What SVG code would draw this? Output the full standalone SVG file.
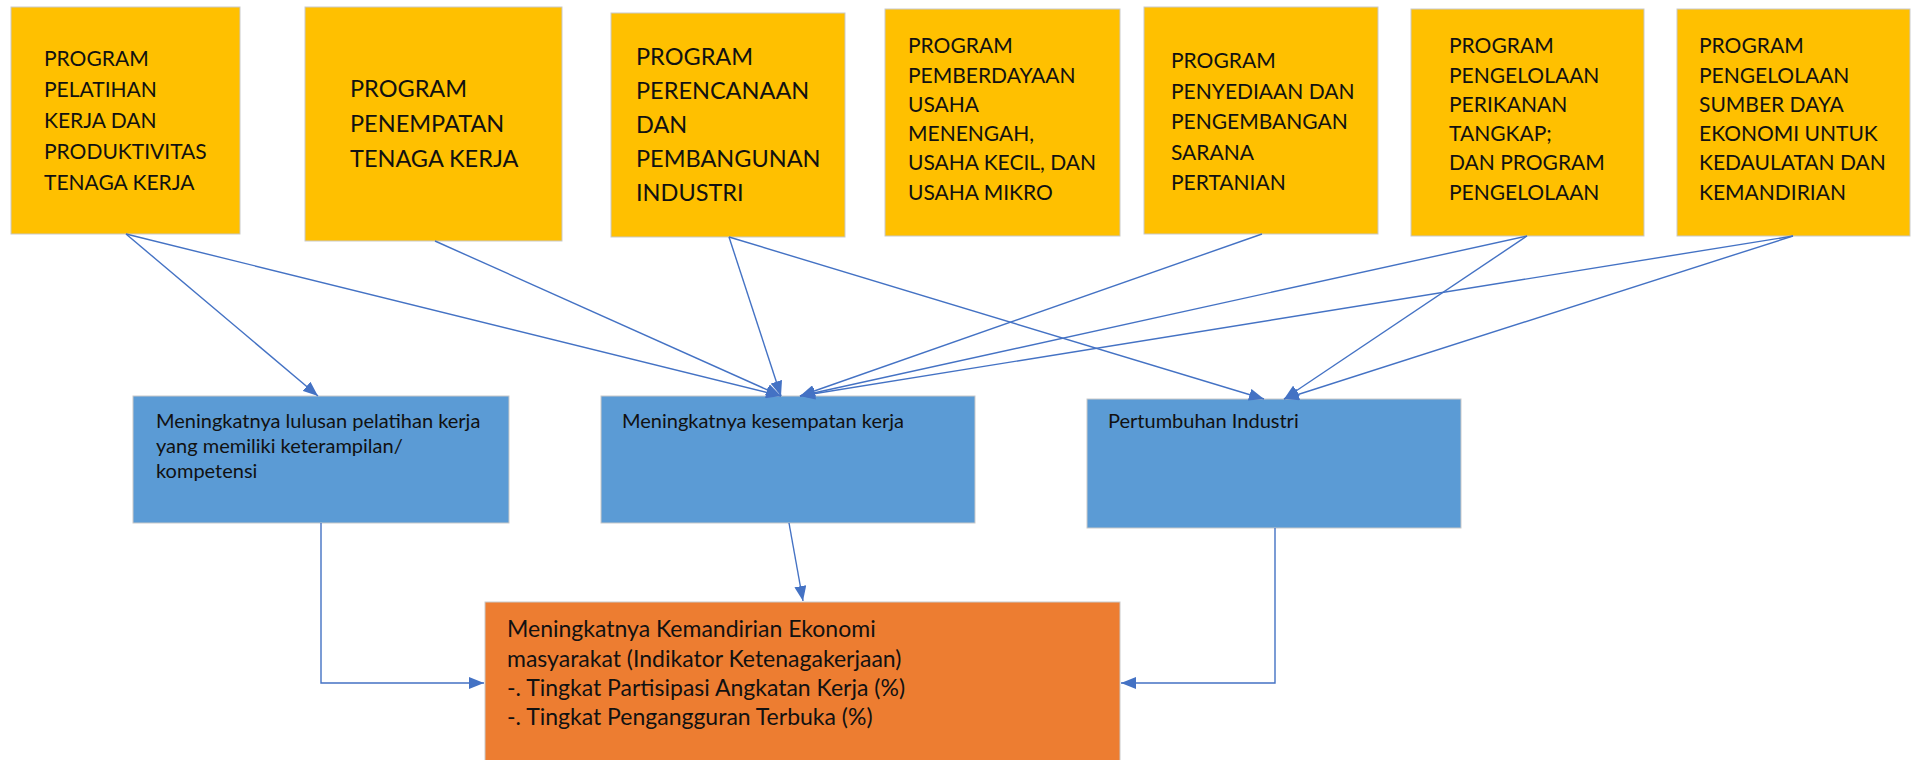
<svg xmlns="http://www.w3.org/2000/svg" width="1913" height="760" viewBox="0 0 1913 760">
<defs>
<style>
.y{fill:#FFC000;stroke:#C9C9C9;stroke-width:1}
.b{fill:#5B9BD5;stroke:#C9C9C9;stroke-width:1}
.o{fill:#ED7D31;stroke:#C9C9C9;stroke-width:1}
.t{font-family:Lato,"Open Sans",sans-serif;fill:#111}
.s{font-size:21px}
.l{font-size:23.5px}
.m{font-size:20px}
.n{font-size:23px}
.c{fill:none;stroke:#4472C4;stroke-width:1.4}
</style>
<marker id="ah" markerWidth="15" markerHeight="12" refX="15" refY="6" orient="auto" markerUnits="userSpaceOnUse"><path d="M0,0 L15,6 L0,12 Z" fill="#4472C4"/></marker>
</defs>
<rect width="1913" height="760" fill="#fff"/>
<g id="p1"><rect class="y" x="11" y="7" width="229" height="227"/>
<text class="t s" x="44"><tspan x="44" y="66">PROGRAM</tspan><tspan x="44" y="97">PELATIHAN</tspan><tspan x="44" y="128">KERJA DAN</tspan><tspan x="44" y="159">PRODUKTIVITAS</tspan><tspan x="44" y="190">TENAGA KERJA</tspan></text></g>
<g id="p2"><rect class="y" x="305" y="7" width="257" height="234"/>
<text class="t l" x="350"><tspan x="350" y="97">PROGRAM</tspan><tspan x="350" y="132">PENEMPATAN</tspan><tspan x="350" y="167">TENAGA KERJA</tspan></text></g>
<g id="p3"><rect class="y" x="611" y="13" width="234" height="224"/>
<text class="t l" x="636"><tspan x="636" y="65">PROGRAM</tspan><tspan x="636" y="99">PERENCANAAN</tspan><tspan x="636" y="133">DAN</tspan><tspan x="636" y="167">PEMBANGUNAN</tspan><tspan x="636" y="201">INDUSTRI</tspan></text></g>
<g id="p4"><rect class="y" x="885" y="9" width="235" height="227"/>
<text class="t s" x="908"><tspan x="908" y="53">PROGRAM</tspan><tspan x="908" y="83">PEMBERDAYAAN</tspan><tspan x="908" y="112">USAHA</tspan><tspan x="908" y="141">MENENGAH,</tspan><tspan x="908" y="170">USAHA KECIL, DAN</tspan><tspan x="908" y="200">USAHA MIKRO</tspan></text></g>
<g id="p5"><rect class="y" x="1144" y="7" width="234" height="227"/>
<text class="t s" x="1171"><tspan x="1171" y="68">PROGRAM</tspan><tspan x="1171" y="99">PENYEDIAAN DAN</tspan><tspan x="1171" y="129">PENGEMBANGAN</tspan><tspan x="1171" y="160">SARANA</tspan><tspan x="1171" y="190">PERTANIAN</tspan></text></g>
<g id="p6"><rect class="y" x="1411" y="9" width="233" height="227"/>
<text class="t s" x="1449"><tspan x="1449" y="53">PROGRAM</tspan><tspan x="1449" y="83">PENGELOLAAN</tspan><tspan x="1449" y="112">PERIKANAN</tspan><tspan x="1449" y="141">TANGKAP;</tspan><tspan x="1449" y="170">DAN PROGRAM</tspan><tspan x="1449" y="200">PENGELOLAAN</tspan></text></g>
<g id="p7"><rect class="y" x="1677" y="9" width="233" height="227"/>
<text class="t s" x="1699"><tspan x="1699" y="53">PROGRAM</tspan><tspan x="1699" y="83">PENGELOLAAN</tspan><tspan x="1699" y="112">SUMBER DAYA</tspan><tspan x="1699" y="141">EKONOMI UNTUK</tspan><tspan x="1699" y="170">KEDAULATAN DAN</tspan><tspan x="1699" y="200">KEMANDIRIAN</tspan></text></g>
<g id="o1"><rect class="b" x="133" y="396" width="376" height="127"/>
<text class="t m" x="156"><tspan x="156" y="428">Meningkatnya lulusan pelatihan kerja</tspan><tspan x="156" y="453">yang memiliki keterampilan/</tspan><tspan x="156" y="478">kompetensi</tspan></text></g>
<g id="o2"><rect class="b" x="601" y="396" width="374" height="127"/>
<text class="t m" x="622" y="428">Meningkatnya kesempatan kerja</text></g>
<g id="o3"><rect class="b" x="1087" y="399" width="374" height="129"/>
<text class="t m" x="1108" y="428">Pertumbuhan Industri</text></g>
<g id="goal"><rect class="o" x="485" y="602" width="635" height="170"/>
<text class="t n" x="507"><tspan x="507" y="637">Meningkatnya Kemandirian Ekonomi</tspan><tspan x="507" y="667">masyarakat (Indikator Ketenagakerjaan)</tspan><tspan x="507" y="696">-. Tingkat Partisipasi Angkatan Kerja (%)</tspan><tspan x="507" y="725">-. Tingkat Pengangguran Terbuka (%)</tspan></text></g>
<g id="connectors" class="c" marker-end="url(#ah)">
<line class="c" x1="126" y1="234" x2="318" y2="396" marker-end="url(#ah)"/>
<line class="c" x1="126" y1="234" x2="781" y2="396" marker-end="url(#ah)"/>
<line class="c" x1="435" y1="241" x2="781" y2="396" marker-end="url(#ah)"/>
<line class="c" x1="729" y1="237" x2="781" y2="396" marker-end="url(#ah)"/>
<line class="c" x1="729" y1="237" x2="1264" y2="399" marker-end="url(#ah)"/>
<line class="c" x1="1262" y1="234" x2="800" y2="396" marker-end="url(#ah)"/>
<line class="c" x1="1527" y1="236" x2="800" y2="396" marker-end="url(#ah)"/>
<line class="c" x1="1793" y1="236" x2="800" y2="396" marker-end="url(#ah)"/>
<line class="c" x1="1527" y1="236" x2="1284" y2="399" marker-end="url(#ah)"/>
<line class="c" x1="1793" y1="236" x2="1284" y2="399" marker-end="url(#ah)"/>
<polyline class="c" points="321,523 321,683 484,683" marker-end="url(#ah)"/>
<line class="c" x1="789" y1="523" x2="803" y2="601" marker-end="url(#ah)"/>
<polyline class="c" points="1275,528 1275,683 1121,683" marker-end="url(#ah)"/>
</g>
</svg>
